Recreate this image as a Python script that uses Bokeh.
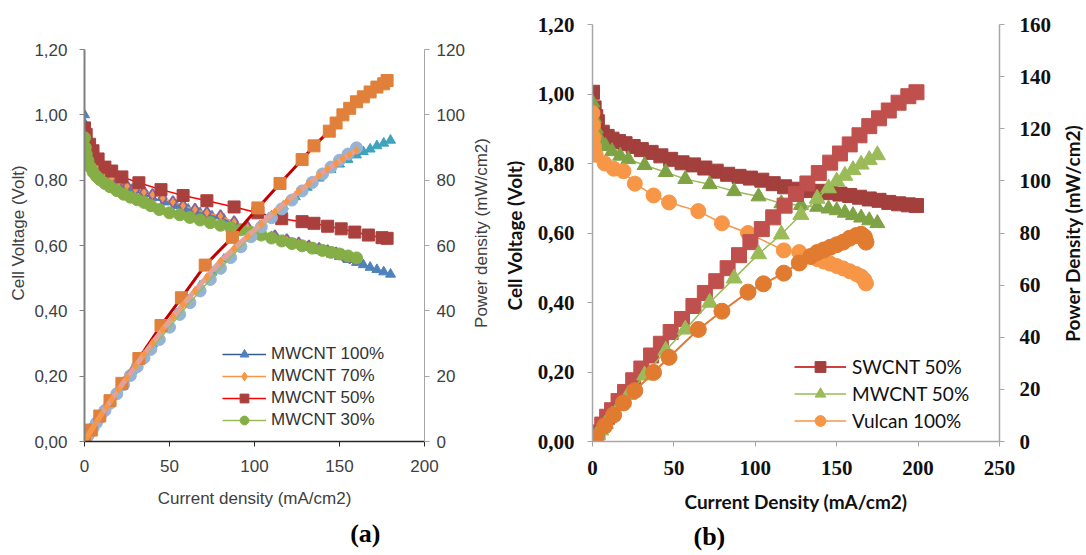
import math
from bokeh.plotting import figure
from bokeh.models import (Range1d, LinearAxis, FixedTicker, CustomJSTickFormatter,
                          Legend, LegendItem, Title)
from bokeh.layouts import row
from bokeh.embed import file_html
from bokeh.resources import INLINE

# ---------------- Panel (a) data ----------------
a_x_ticks = [0, 50, 100, 150, 200]
a_v_ticks = [0, 0.2, 0.4, 0.6, 0.8, 1.0, 1.2]
a_p_ticks = [0, 20, 40, 60, 80, 100, 120]
a_names = ["MWCNT 100%", "MWCNT 70%", "MWCNT 50%", "MWCNT 30%"]

mw100_i = [0, 0.5, 1, 2, 3, 5, 7, 10, 14, 18, 23, 28, 34, 40, 47, 54, 61, 68, 75, 82, 89, 96, 103,
           110, 117, 124, 131, 138, 145, 150, 155, 160, 164, 168, 172, 176, 180]
mw100_v = [1.00, 0.97, 0.95, 0.92, 0.90, 0.875, 0.855, 0.835, 0.815, 0.80, 0.785, 0.772, 0.758,
           0.746, 0.733, 0.722, 0.711, 0.70, 0.69, 0.68, 0.666, 0.652, 0.64, 0.627, 0.615, 0.604,
           0.594, 0.584, 0.574, 0.566, 0.557, 0.548, 0.541, 0.533, 0.526, 0.519, 0.512]
mw100_p = [0, 0.5, 0.95, 1.8, 2.7, 4.4, 6.0, 8.4, 11.4, 14.4, 18.1, 21.6, 25.8, 29.8, 34.5, 39.0,
           43.4, 47.6, 51.8, 55.8, 59.3, 62.6, 65.9, 69.0, 72.0, 74.9, 77.8, 80.6, 83.2, 84.9, 86.3,
           87.7, 88.7, 89.5, 90.5, 91.3, 92.2]

mw70_i = [0, 1, 2, 3, 4.5, 6, 8, 10, 13, 16, 20, 25, 30, 35, 40, 46, 52, 58, 65, 72, 80, 88, 96,
          104, 112, 119, 126, 132, 138, 143, 148, 152, 156, 160]
mw70_v = [0.96, 0.92, 0.90, 0.88, 0.865, 0.85, 0.838, 0.826, 0.815, 0.805, 0.793, 0.781, 0.772,
          0.763, 0.755, 0.745, 0.733, 0.722, 0.71, 0.70, 0.69, 0.672, 0.655, 0.64, 0.628, 0.617,
          0.607, 0.598, 0.59, 0.583, 0.576, 0.57, 0.563, 0.557]
mw70_p = [0, 0.9, 1.8, 2.6, 3.9, 5.1, 6.7, 8.3, 10.6, 12.9, 15.9, 19.5, 23.2, 26.7, 30.2, 34.3,
          38.1, 41.9, 46.2, 50.4, 55.2, 59.1, 62.9, 66.6, 70.3, 73.4, 76.5, 78.9, 81.4, 83.4, 85.2,
          86.6, 87.8, 89.1]

mw50_vi = [0, 1, 3, 5, 8, 12, 16, 22, 32, 45, 58, 72, 88, 102, 116, 128, 135, 143, 151, 159, 167,
           175, 178]
mw50_v = [0.96, 0.94, 0.91, 0.89, 0.865, 0.84, 0.828, 0.81, 0.792, 0.771, 0.753, 0.737, 0.718,
          0.70, 0.682, 0.673, 0.668, 0.659, 0.651, 0.641, 0.632, 0.624, 0.622]
mw50_pi = [0, 4, 9, 15, 22, 32, 45, 57, 71, 87, 102, 115, 128, 135, 144, 148, 152, 156, 160, 164,
           168, 172, 176, 178]
mw50_p = [0, 3.5, 7.8, 12.5, 17.8, 25.4, 35.5, 44, 54, 62.5, 71.5, 79, 86.3, 90.5, 95, 97.5, 100,
          102, 104, 105.5, 107, 108.5, 109.5, 110.5]

mw30_i = [0, 0.5, 1, 2, 3.5, 5, 7, 9, 12, 15, 19, 23, 27, 31, 35, 39, 44, 50, 56, 62, 68, 74, 80,
          86, 92, 98, 104, 110, 116, 122, 128, 134, 140, 145, 150, 155, 160]
mw30_v = [0.93, 0.90, 0.88, 0.86, 0.84, 0.825, 0.812, 0.802, 0.79, 0.78, 0.768, 0.757, 0.748,
          0.74, 0.732, 0.722, 0.71, 0.70, 0.694, 0.686, 0.678, 0.67, 0.662, 0.655, 0.648, 0.64,
          0.632, 0.623, 0.614, 0.606, 0.599, 0.592, 0.585, 0.579, 0.574, 0.568, 0.562]
mw30_p = [0, 0.45, 0.9, 1.7, 2.9, 4.1, 5.7, 7.2, 9.5, 11.7, 14.6, 17.4, 20.2, 22.9, 25.6, 28.2,
          31.2, 35.0, 38.9, 42.5, 46.1, 49.6, 53.0, 56.3, 59.6, 62.7, 65.7, 68.5, 71.2, 73.9, 76.7,
          79.3, 81.9, 84.0, 86.1, 88.0, 89.9]

# ---------------- Panel (b) data ----------------
b_x_ticks = [0, 50, 100, 150, 200, 250]
b_v_ticks = [0, 0.2, 0.4, 0.6, 0.8, 1.0, 1.2]
b_p_ticks = [0, 20, 40, 60, 80, 100, 120, 140, 160]
b_names = ["SWCNT 50%", "MWCNT 50%", "Vulcan 100%"]

sw_i = [0, 1, 2, 3, 6, 9, 12, 16, 20, 25, 30, 36, 42, 48, 55, 62, 69, 76, 83, 90, 97, 104, 111,
        118, 125, 132, 139, 146, 152, 158, 164, 170, 176, 182, 188, 194, 199]
sw_v = [1.005, 0.96, 0.935, 0.92, 0.89, 0.878, 0.87, 0.863, 0.857, 0.849, 0.84, 0.832, 0.822,
        0.812, 0.802, 0.796, 0.787, 0.778, 0.769, 0.763, 0.758, 0.752, 0.742, 0.733, 0.726, 0.722,
        0.72, 0.716, 0.712, 0.708, 0.703, 0.698, 0.694, 0.688, 0.684, 0.681, 0.679]
sw_p = [0, 1.5, 2.5, 3.5, 6.5, 9.5, 12, 15.5, 19, 23.5, 28, 33, 37.5, 42, 47, 52, 57, 61.5, 66.5,
        71.5, 76.5, 81.5, 86, 90.5, 95, 99, 103, 107, 110.5, 114, 117.5, 121, 124, 127, 130, 132.5,
        134]

mwb_i = [0, 1, 2, 3, 5, 8, 12, 17, 22, 32, 45, 57, 72, 87, 102, 116, 128, 138, 145, 150, 155, 160,
         165, 170, 175]
mwb_v = [0.975, 0.93, 0.90, 0.88, 0.865, 0.85, 0.835, 0.822, 0.812, 0.795, 0.775, 0.755, 0.74,
         0.72, 0.705, 0.685, 0.68, 0.675, 0.67, 0.665, 0.658, 0.651, 0.644, 0.636, 0.628]
mwb_p = [0, 1, 1.8, 2.6, 4.3, 6.8, 10, 14, 17.9, 25.4, 34.9, 43, 53.3, 62.6, 71.9, 79.5, 87, 93.2,
         97.2, 99.8, 102, 104.2, 106.3, 108.1, 109.9]

vul_vi = [0, 0.3, 0.6, 1, 2, 7.5, 13, 19, 26, 37.5, 47, 65, 79.5, 95.5, 117.5, 127, 134, 138, 142,
          146, 150, 154, 158, 162, 165, 167, 168]
vul_v = [0.945, 0.91, 0.875, 0.848, 0.825, 0.80, 0.785, 0.778, 0.742, 0.708, 0.688, 0.663, 0.628,
         0.60, 0.55, 0.545, 0.532, 0.525, 0.518, 0.512, 0.505, 0.498, 0.49, 0.482, 0.475, 0.465,
         0.455]
vul_pi = [0, 2, 7.5, 13, 19, 26, 37.5, 47, 65, 79.5, 95.5, 105, 117.5, 127, 134, 138, 142, 146,
          150, 154, 158, 162, 165, 167, 168]
vul_p = [0, 1.7, 6.0, 10.2, 14.8, 19.5, 26.5, 32.3, 43.0, 50.0, 57.3, 60.5, 64.6, 68.5, 71.0, 72.5,
         73.5, 74.5, 75.5, 76.5, 78.0, 79.0, 79.5, 78.5, 76.5]


def comma_fmt():
    return CustomJSTickFormatter(code="return tick.toFixed(2).replace('.', ',');")


def style_axis(ax, font, size, color, line_color, line_width, standoff, style="normal"):
    ax.axis_line_color = line_color
    ax.axis_line_width = line_width
    ax.major_tick_line_color = line_color
    ax.major_tick_line_width = 1
    ax.major_tick_in = 0
    ax.major_tick_out = 5
    ax.minor_tick_line_color = None
    ax.major_label_text_font = font
    ax.major_label_text_font_size = size
    ax.major_label_text_color = color
    ax.major_label_text_font_style = style
    ax.major_label_standoff = standoff


def style_title(ax, text, font, size, color, style, standoff):
    ax.axis_label = text
    ax.axis_label_text_font = font
    ax.axis_label_text_font_size = size
    ax.axis_label_text_color = color
    ax.axis_label_text_font_style = style
    ax.axis_label_standoff = standoff


def title_axis(text, font, size, color, style, standoff, bounds=None):
    """An axis that only carries a title (reads bottom-to-top on a left side)."""
    ax = LinearAxis(ticker=FixedTicker(ticks=[]))
    if bounds is not None:
        ax.bounds = bounds
    ax.axis_line_color = None
    ax.major_tick_line_color = None
    ax.minor_tick_line_color = None
    ax.major_tick_out = 0
    ax.major_label_standoff = 0
    style_title(ax, text, font, size, color, style, standoff)
    return ax


def bare(p):
    p.outline_line_color = None
    p.grid.visible = False
    p.border_fill_color = "white"


FRAME_TOP = 24
FRAME_H = 417
BOTTOM = 114

FA = "Liberation Sans"
TA = "#404040"
FB = "Liberation Serif"
FL = "Lato"
TB = "#111111"

# ================= Panel (a) =================
pa = figure(frame_width=340, frame_height=FRAME_H, min_border_left=84, min_border_right=44,
            min_border_top=FRAME_TOP, min_border_bottom=BOTTOM, x_range=Range1d(0, 200),
            y_range=Range1d(0, 1.2 * 417 / 392), output_backend="svg", toolbar_location=None)
pa.extra_y_ranges = {"p": Range1d(0, 120 * 417 / 392)}
bare(pa)

pa.xaxis.ticker = FixedTicker(ticks=a_x_ticks)
style_axis(pa.xaxis[0], FA, "17px", TA, "#262626", 1.5, 13)
style_title(pa.xaxis[0], "Current density (mA/cm2)", FA, "17px", TA, "normal", 14)

pa.yaxis.ticker = FixedTicker(ticks=a_v_ticks)
pa.yaxis.formatter = comma_fmt()
pa.yaxis.bounds = (0, 1.2)
style_axis(pa.yaxis[0], FA, "17px", TA, "#808080", 2, 12)
pa.add_layout(title_axis("Cell Voltage (Volt)", FA, "17px", TA, "normal", 4, (0, 0.918)), "left")

axp = LinearAxis(y_range_name="p", ticker=FixedTicker(ticks=a_p_ticks), bounds=(0, 120))
style_axis(axp, FA, "17px", TA, "#a6a6a6", 1, 7)
pa.add_layout(axp, "right")

# voltage series
l100 = pa.line(mw100_i, mw100_v, line_color="#385D8A", line_width=1.5)
s100 = pa.scatter(mw100_i, mw100_v, marker="triangle", size=10, fill_color="#4F81BD",
                  line_color="#4F81BD")
l70 = pa.line(mw70_i, mw70_v, line_color="#F79646", line_width=1.5)
pa.scatter(mw70_i, mw70_v, marker="diamond", size=12, fill_color="#F79646", line_color="#8064A2",
           line_width=1.8)
l50 = pa.line(mw50_vi, mw50_v, line_color="#FF0000", line_width=1.5)
s50 = pa.scatter(mw50_vi, mw50_v, marker="square", size=12, fill_color="#A9403D",
                 line_color="#A9403D")
l30 = pa.line(mw30_i, mw30_v, line_color="#9BBB59", line_width=1.5)
s30 = pa.scatter(mw30_i, mw30_v, marker="circle", size=12, fill_color="#86AE46",
                 line_color="#86AE46")

# power series
pa.line(mw100_i, mw100_p, line_color="#4BACC6", line_width=2, y_range_name="p")
pa.scatter(mw100_i, mw100_p, marker="triangle", size=10, fill_color="#3FA3BD", line_color="#3FA3BD",
           y_range_name="p")
pa.scatter(mw30_i, mw30_p, marker="circle", size=12, fill_color="#95B3D7", line_color="#95B3D7",
           y_range_name="p")
pa.line(mw30_i, mw30_p, line_color="#9BBB59", line_width=1.5, y_range_name="p")
pa.line(mw50_pi, mw50_p, line_color="#C00000", line_width=3, y_range_name="p")
pa.scatter(mw50_pi, mw50_p, marker="square", size=12, fill_color="#E0803A", line_color="#E0803A",
           y_range_name="p")
pa.line(mw70_i, mw70_p, line_color="#E4A196", line_width=5, y_range_name="p")
s70 = pa.scatter(mw70_i, mw70_p, marker="diamond", size=8, fill_color="#F79646",
                 line_color="#F79646", y_range_name="p")

leg_a = Legend(items=[LegendItem(label=a_names[0], renderers=[l100, s100]),
                      LegendItem(label=a_names[1], renderers=[l70, s70]),
                      LegendItem(label=a_names[2], renderers=[l50, s50]),
                      LegendItem(label=a_names[3], renderers=[l30, s30])],
               location=(138, 10), glyph_width=44, glyph_height=22,
               label_height=22, spacing=0, padding=0, margin=0, label_standoff=5,
               label_text_font=FA, label_text_font_size="17px", label_text_color="#333333",
               background_fill_alpha=0, border_line_color=None)
pa.add_layout(leg_a)

pa.add_layout(Title(text="(a)", align="right", offset=44, standoff=13,
                    text_font="Liberation Serif", text_font_style="bold",
                    text_font_size="26px", text_color="black"), "below")

# ================= Panel (b) =================
pb = figure(frame_width=407, frame_height=FRAME_H, min_border_left=121, min_border_right=52,
            min_border_top=FRAME_TOP, min_border_bottom=BOTTOM, x_range=Range1d(0, 250),
            y_range=Range1d(0, 1.2), output_backend="svg", toolbar_location=None)
pb.extra_y_ranges = {"p": Range1d(0, 160)}
bare(pb)

pb.xaxis.ticker = FixedTicker(ticks=b_x_ticks)
style_axis(pb.xaxis[0], FB, "21px", TB, "#a6a6a6", 1.5, 14, "bold")
style_title(pb.xaxis[0], "Current Density (mA/cm2)", FL, "19px", TB, "bold", 12)

pb.yaxis.ticker = FixedTicker(ticks=b_v_ticks)
pb.yaxis.formatter = comma_fmt()
style_axis(pb.yaxis[0], FB, "21px", TB, "#a6a6a6", 1.5, 13, "bold")
style_title(pb.yaxis[0], "Cell  Voltage (Volt)", FL, "19px", TB, "bold", 9)
# title of panel (a)'s power axis, which sits in the gap between the panels
pb.add_layout(title_axis("Power density (mW/cm2)", FA, "17px", TA, "normal", 9,
                         (0, 1.2 * 392 / 417)), "left")

bxp = LinearAxis(y_range_name="p", ticker=FixedTicker(ticks=b_p_ticks))
style_axis(bxp, FB, "21px", TB, "#a6a6a6", 1.5, 15, "bold")
pb.add_layout(bxp, "right")

# voltage series
lsw = pb.line(sw_i, sw_v, line_color="#C00000", line_width=1.5)
ssw = pb.scatter(sw_i, sw_v, marker="square", size=14, fill_color="#A33F3C", line_color="#A33F3C")
lmw = pb.line(mwb_i, mwb_v, line_color="#9BBB59", line_width=1.5)
pb.scatter(mwb_i, mwb_v, marker="triangle", size=15, fill_color="#7FA245", line_color="#7FA245")
lvu = pb.line(vul_vi, vul_v, line_color="#F79646", line_width=1.5)
svu = pb.scatter(vul_vi, vul_v, marker="circle", size=15, fill_color="#F79646",
                 line_color="#F79646")

# power series
pb.line(sw_i, sw_p, line_color="#C0504D", line_width=1.5, y_range_name="p")
pb.scatter(sw_i, sw_p, marker="square", size=15, fill_color="#C0504D", line_color="#C0504D",
           y_range_name="p")
pb.line(mwb_i, mwb_p, line_color="#9BBB59", line_width=1.5, y_range_name="p")
smw = pb.scatter(mwb_i, mwb_p, marker="triangle", size=16, fill_color="#9BBB59",
                 line_color="#9BBB59", y_range_name="p")
pb.line(vul_pi, vul_p, line_color="#E07B30", line_width=2, y_range_name="p")
pb.scatter(vul_pi, vul_p, marker="circle", size=16, fill_color="#E07B30", line_color="#E07B30",
           y_range_name="p")

leg_b = Legend(items=[LegendItem(label=b_names[0], renderers=[lsw, ssw]),
                      LegendItem(label=b_names[1], renderers=[lmw, smw]),
                      LegendItem(label=b_names[2], renderers=[lvu, svu])],
               location=(202, 7), glyph_width=52, glyph_height=27,
               label_height=27, spacing=0, padding=0, margin=0, label_standoff=6,
               label_text_font=FL, label_text_font_size="19px", label_text_color=TB,
               background_fill_alpha=0, border_line_color=None)
pb.add_layout(leg_b)

pb.add_layout(Title(text="(b)", align="left", offset=101, standoff=8,
                    text_font="Liberation Serif", text_font_style="bold",
                    text_font_size="26px", text_color="black"), "below")

# ====== narrow strip that carries panel (b)'s power-axis title ======
pc = figure(frame_width=1, frame_height=FRAME_H, min_border_left=29, min_border_right=0,
            min_border_top=FRAME_TOP, min_border_bottom=BOTTOM, x_range=Range1d(0, 1),
            y_range=Range1d(0, 1), x_axis_location=None, y_axis_location=None,
            output_backend="svg", toolbar_location=None)
bare(pc)
pc.background_fill_color = "white"
pc.add_layout(title_axis("Power Density (mW/cm2)", FL, "19px", TB, "bold", 0), "left")

layout = row(pa, pb, pc)
open("out.html", "w").write(file_html(layout, INLINE))
